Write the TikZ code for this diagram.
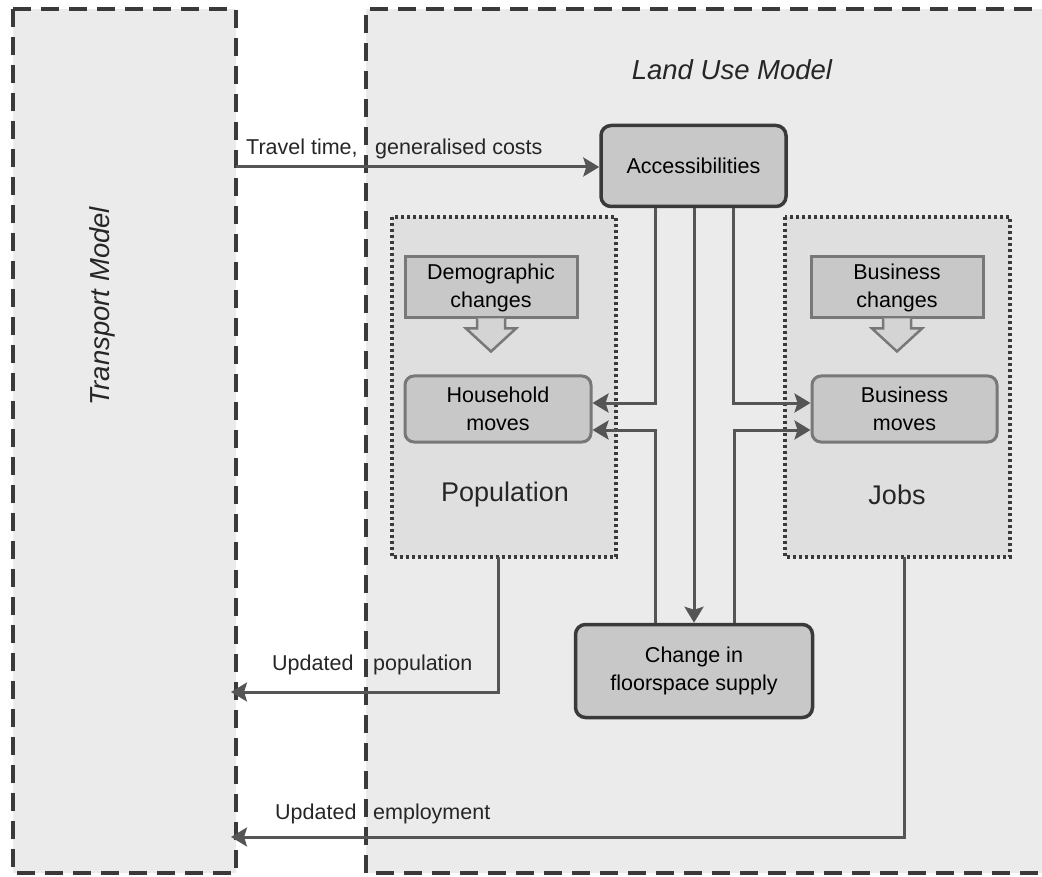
\documentclass[tikz,border=0pt]{standalone}
\usepackage{fontspec}
\setmainfont{Liberation Sans}
\usetikzlibrary{arrows.meta,calc}
\definecolor{bggray}{HTML}{EBEBEB}
\definecolor{dotfill}{HTML}{DFDFDF}
\definecolor{nodefill}{HTML}{C8C8C8}
\definecolor{darkline}{HTML}{3A3A3A}
\definecolor{midline}{HTML}{787878}
\definecolor{connline}{HTML}{555555}
\definecolor{blockfill}{HTML}{D4D4D4}
\begin{document}
\begin{tikzpicture}[x=1pt,y=-1pt,
  font=\fontsize{21.5}{28}\selectfont,
  dashbox/.style={draw=darkline, line width=4.5pt, dash pattern=on 18pt off 10pt, fill=bggray},
  dotbox/.style={draw=darkline, line width=3.5pt, dash pattern=on 2.8pt off 3.2pt, fill=dotfill},
  roundbox/.style={draw=darkline, line width=3.5pt, fill=nodefill, rounded corners=10pt, align=center, inner sep=0pt},
  softbox/.style={draw=midline, line width=3pt, fill=nodefill, rounded corners=9pt, align=center, inner sep=0pt},
  changebox/.style={draw=midline, line width=3pt, fill=nodefill, align=center, inner sep=0pt},
  blockarrow/.style={draw=midline, line width=2.5pt, fill=blockfill, line join=miter},
  conn/.style={draw=connline, line width=3pt},
  arr/.style={conn, -{Stealth[length=16pt,width=19pt,inset=3pt]}},
  lbl/.style={anchor=base west, inner sep=0pt, text=black!85},
  title/.style={font=\fontsize{27.5}{32}\selectfont\itshape, text=black!85},
]
\useasboundingbox (0,0) rectangle (1042,877);
\clip (0,0) rectangle (1042,877);
\fill[white] (0,0) rectangle (1042,877);

% outer model frames
\draw[dashbox] (13,9) rectangle (236,873);
\fill[bggray] (366,9) rectangle (1060,873);
\draw[dashbox, fill=none] (1060,9) -- (366,9) -- (366,873) -- (1060,873);

\node[rotate=90, title] (tm) at (102,306) {Transport Model};
\node[title] (lum) at (732,70) {Land Use Model};

% population and jobs groups
\draw[dotbox] (392,217) rectangle (616,557);
\draw[dotbox] (785,217) rectangle (1010,557);
\node (popgrp) at (504,387) [minimum width=224pt, minimum height=340pt, inner sep=0pt] {};
\node (jobgrp) at (897.5,387) [minimum width=225pt, minimum height=340pt, inner sep=0pt] {};
\node[font=\fontsize{27}{32}\selectfont, text=black!85] (poplbl) at (505,495) {Population};
\node[font=\fontsize{27}{32}\selectfont, text=black!85] (joblbl) at (897,495) {Jobs};

% main nodes
\node[roundbox, minimum width=185pt, minimum height=81pt] (acc) at (693.5,166) {Accessibilities};
\node[changebox, minimum width=172pt, minimum height=61pt] (demo) at (491,287.5) {Demographic\\changes};
\node[changebox, minimum width=172pt, minimum height=61pt] (bizch) at (897,287.5) {Business\\changes};
\node[softbox, minimum width=186pt, minimum height=66pt] (hh) at (498,409) {Household\\moves};
\node[softbox, minimum width=185pt, minimum height=66pt] (bm) at (904.5,409) {Business\\moves};
\node[roundbox, minimum width=237pt, minimum height=93pt] (chg) at (694,671) {Change in\\floorspace supply};

% hollow block arrows
\draw[blockarrow] ($(demo.south)+(-14,-1)$) -- ++(0,10) -- ++(-11,0) -- ($(demo.south)+(0,32)$) -- ($(demo.south)+(25,9)$) -- ++(-11,0) -- ($(demo.south)+(14,-1)$);
\draw[blockarrow] ($(bizch.south)+(-14,-1)$) -- ++(0,10) -- ++(-11,0) -- ($(bizch.south)+(0,32)$) -- ($(bizch.south)+(25,9)$) -- ++(-11,0) -- ($(bizch.south)+(14,-1)$);

% connectors
\coordinate (ts) at (236,167);
\coordinate (tp) at (231,692);
\coordinate (te) at (231,837);
\draw[arr] (ts) -- (ts -| acc.west);
\draw[arr] ([xshift=-38.5pt]acc.south) |- ([yshift=6pt]hh.east);
\draw[arr] ([xshift=40pt]acc.south) |- ([yshift=6pt]bm.west);
\draw[arr] (acc.south -| chg.north) -- (chg.north);
\draw[arr] ([xshift=-39pt]chg.north) |- ([yshift=-21pt]hh.east);
\draw[arr] ([xshift=40pt]chg.north) |- ([yshift=-21pt]bm.west);
\draw[arr] ([xshift=-6pt]popgrp.south) |- (tp);
\draw[arr] ([xshift=6.5pt]jobgrp.south) |- (te);

% labels
\node[lbl] (l1) at (246,155) {Travel time,};
\node[lbl] (l2) at (375,155) {generalised costs};
\node[lbl] (l3) at (272,670) {Updated};
\node[lbl] (l4) at (373,670) {population};
\node[lbl] (l5) at (275,819) {Updated};
\node[lbl] (l6) at (373,819) {employment};
\end{tikzpicture}
\end{document}
